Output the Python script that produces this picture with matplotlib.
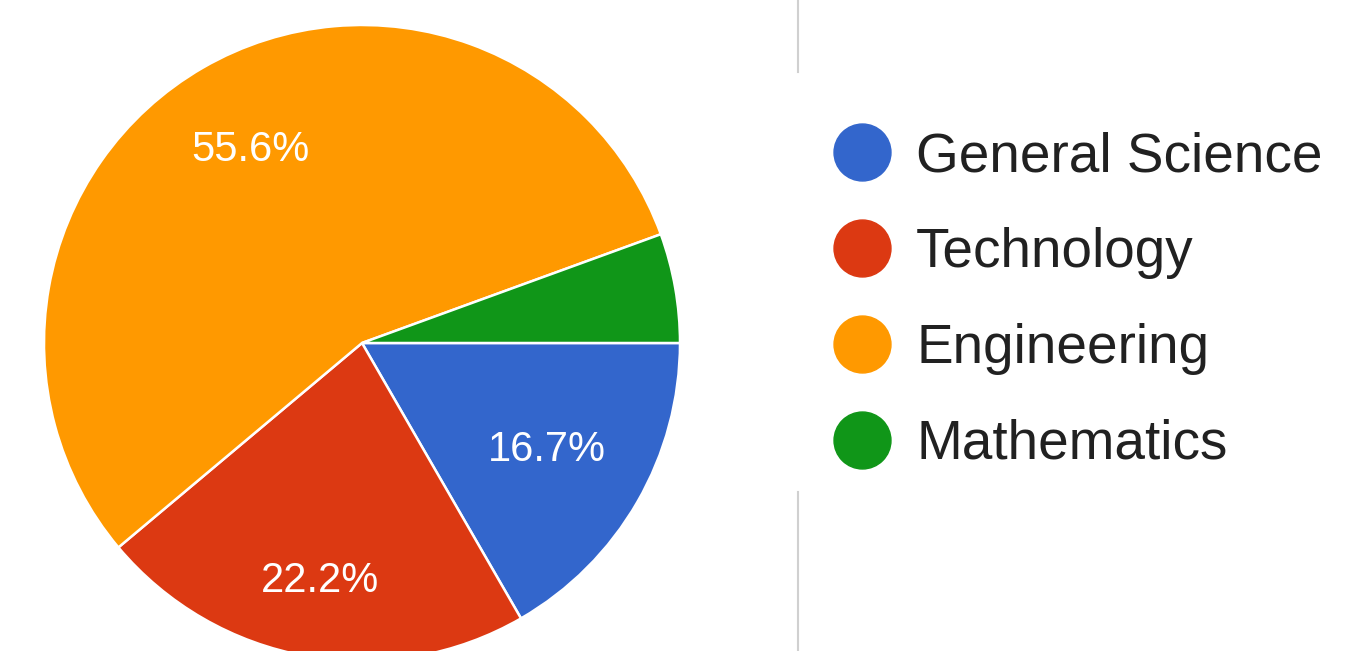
import matplotlib
matplotlib.use("Agg")
import numpy as np
import matplotlib.pyplot as plt
from matplotlib.lines import Line2D

# survey answers (counts out of 18)
categories = ["General Science", "Technology", "Engineering", "Mathematics"]
counts = [3, 4, 10, 1]
colors = ["#3366CC", "#DC3912", "#FF9900", "#109618"]
# how far out each percent label sits (fraction of radius)
label_dist = [0.67, 0.76, 0.70, 0.70]

plt.rcParams['font.family'] = ['Liberation Sans', 'DejaVu Sans']

fig = plt.figure(figsize=(13.65, 6.51), dpi=100)
fig.patch.set_facecolor("white")

# pie centre at (362, 343) px, radius 318 px
ax = fig.add_axes([44/1365, -10/651, 636/1365, 636/651])

def pct(p):
	if p < 10:
		return ""
	return "%.1f%%" % p

wedges, texts, autotexts = ax.pie(counts, colors=colors, startangle=0, counterclock=False,
	autopct=pct, pctdistance=0.7, radius=1.0,
	wedgeprops=dict(edgecolor="white", linewidth=1.8),
	textprops=dict(color="white", fontsize=30))

# nudge labels out/in like the google chart does
for w, t, d in zip(wedges, autotexts, label_dist):
	mid = np.deg2rad((w.theta1 + w.theta2) / 2.0)
	t.set_position((d*np.cos(mid), d*np.sin(mid)))

ax.set_xlim(-1, 1)
ax.set_ylim(-1, 1)
ax.set_aspect("equal")
ax.axis("off")

# legend on the right
handles = []
for c in colors:
	handles.append(Line2D([], [], linestyle="none", marker="o", markersize=41,
		markerfacecolor=c, markeredgecolor=c))
leg = fig.legend(handles, categories, loc="center left", bbox_to_anchor=(835/1365, 350/651),
	frameon=False, fontsize=39.5, handlelength=1.0, handletextpad=0.48,
	labelspacing=0.80, borderpad=0, borderaxespad=0)
for t in leg.get_texts():
	t.set_color("#212121")

# grey divider, partly hidden behind the legend area
fig.add_artist(Line2D([798/1365, 798/1365], [579/651, 1.0], color="#d0d0d0", linewidth=1.5))
fig.add_artist(Line2D([798/1365, 798/1365], [0.0, 159/651], color="#d0d0d0", linewidth=1.5))

fig.savefig("out.png", dpi=100, facecolor="white")
